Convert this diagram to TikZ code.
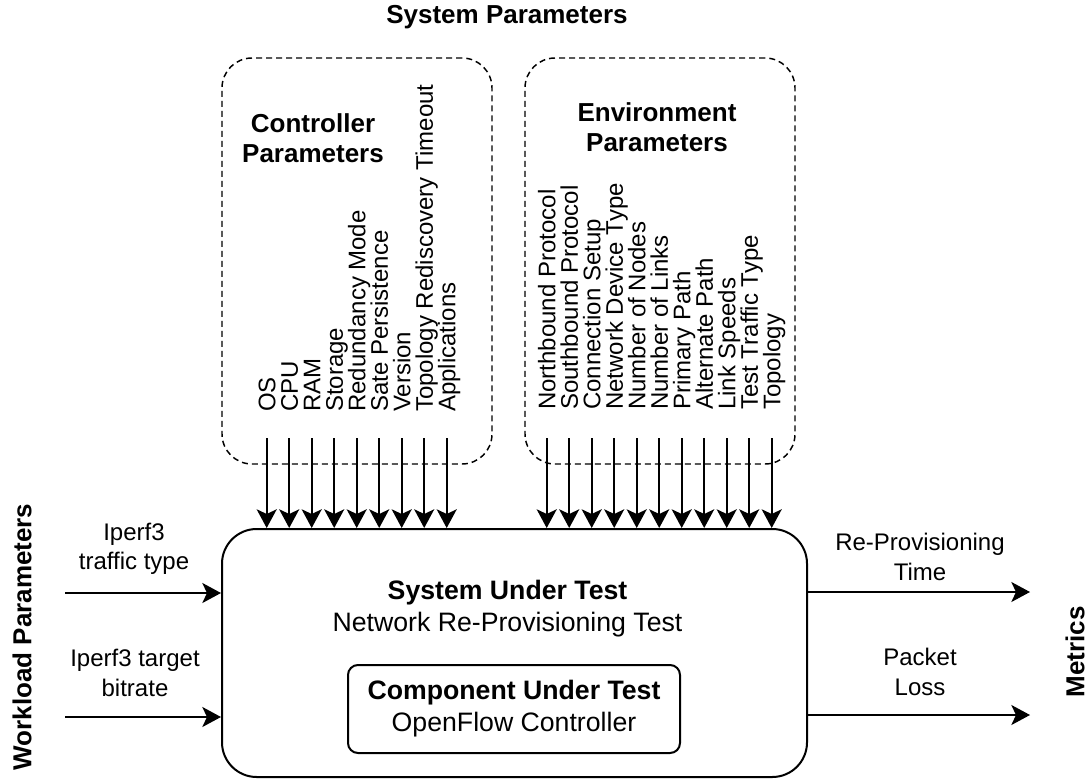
\documentclass[tikz,border=0pt]{standalone}
\usepackage{fontspec}
\setmainfont{Liberation Sans}
\usetikzlibrary{arrows.meta}
\begin{document}
\begin{tikzpicture}[x=0.75pt,y=-0.75pt,
  arr/.style={line width=1.5pt,-{Stealth[length=14pt,width=15pt,inset=3.5pt]}},
  dashbox/.style={draw,line width=1.1pt,dash pattern=on 4.5pt off 3pt,rounded corners=22.5pt,minimum width=202.5pt,minimum height=304.5pt,inner sep=0pt},
  lbl/.style={font=\fontsize{18}{22}\selectfont,align=center,inner sep=0pt},
  vlbl/.style={font=\fontsize{18}{22}\selectfont,rotate=90,anchor=west,inner sep=0pt,text height=13pt,text depth=0pt},
  ttl/.style={font=\fontsize{19.5}{22.5}\selectfont\bfseries,align=center,inner sep=0pt},
  vttl/.style={font=\fontsize{19.5}{22.5}\selectfont\bfseries,rotate=90,inner sep=0pt,text height=14pt,text depth=0pt},
  ctr/.style={font=\fontsize{20}{24}\selectfont,align=center,inner sep=0pt}]
\useasboundingbox (0,0) rectangle (1091,780);

% boxes
\node[draw,line width=1.5pt,rounded corners=26pt,minimum width=438.75pt,minimum height=186pt,inner sep=0pt] (sut) at (514.5,653) {};
\node[ctr] (sutlabel) at (507.5,609) {\textbf{System Under Test}\\Network Re-Provisioning Test};
\node[draw,line width=1.5pt,rounded corners=7.5pt,minimum width=249pt,minimum height=66pt,ctr] (cut) at (514,709) {\textbf{Component Under Test}\\OpenFlow Controller};

\node[dashbox] (ctrl) at (357,261) {};
\node[dashbox] (env) at (660,261) {};

% titles
\node[ttl] (systitle) at (507,17) {System Parameters};
\node[ttl] (ctrltitle) at (313,138) {Controller\\Parameters};
\node[ttl] (envtitle) at (657,127) {Environment\\Parameters};
\node[vttl] (wl) at (22,637) {Workload Parameters};
\node[vttl] (met) at (1075,652) {Metrics};

% controller parameters
\foreach \t [count=\i from 0] in {OS,CPU,RAM,Storage,Redundancy Mode,Sate Persistence,Version,Topology Rediscovery Timeout,Applications}{
  \pgfmathsetmacro\xx{266.7+22.5*\i}
  \node[vlbl] (cl\i) at (\xx,412) {\t};
  \coordinate (ca\i) at (\xx,438);
  \draw[arr] (ca\i) -- (ca\i |- sut.north);
}

% environment parameters
\foreach \t [count=\i from 0] in {Northbound Protocol,Southbound Protocol,Connection Setup,Network Device Type,Number of Nodes,Number of Links,Primary Path,Alternate Path,Link Speeds,Test Traffic Type,Topology}{
  \pgfmathsetmacro\xx{546.7+22.5*\i}
  \node[vlbl] (el\i) at (\xx,410) {\t};
  \coordinate (ea\i) at (\xx,438);
  \draw[arr] (ea\i) -- (ea\i |- sut.north);
}

% workload inputs
\node[lbl] (w1l) at (134,549) {Iperf3\\traffic type};
\node[lbl] (w2l) at (135,673) {Iperf3 target\\bitrate};
\coordinate (w1) at (65,593);
\coordinate (w2) at (65,717);
\draw[arr] (w1) -- (w1 -| sut.west);
\draw[arr] (w2) -- (w2 -| sut.west);

% metrics outputs
\node[lbl] (m1l) at (920,557) {Re-Provisioning\\Time};
\node[lbl] (m2l) at (920,672) {Packet\\Loss};
\coordinate (m1) at (1030,592);
\coordinate (m2) at (1030,715);
\draw[arr] (sut.east |- m1) -- (m1);
\draw[arr] (sut.east |- m2) -- (m2);
\end{tikzpicture}
\end{document}
